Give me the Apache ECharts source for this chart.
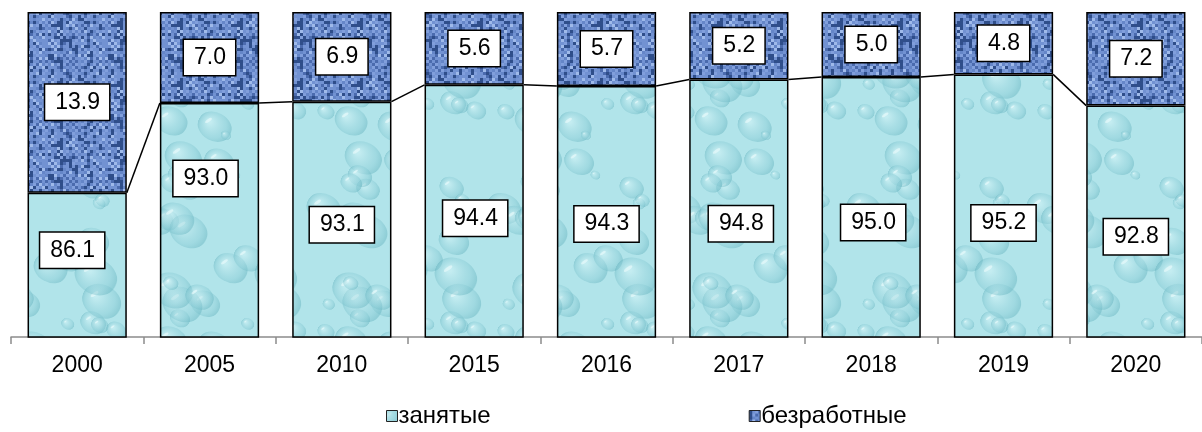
<!DOCTYPE html>
<html>
<head>
<meta charset="utf-8">
<script src="https://cdn.jsdelivr.net/npm/echarts@6/dist/echarts.min.js"></script>
<style>
html, body { margin: 0; padding: 0; background: #fff; }
#chart { width: 1202px; height: 432px; }
</style>
</head>
<body>
<div id="chart"></div>
<script>
var years = ['2000', '2005', '2010', '2015', '2016', '2017', '2018', '2019', '2020'];
var employed = [86.1, 93.0, 93.1, 94.4, 94.3, 94.8, 95.0, 95.2, 92.8];
var unemployed = [13.9, 7.0, 6.9, 5.6, 5.7, 5.2, 5.0, 4.8, 7.2];
var names = ['занятые', 'безработные'];

// the employed labels were moved by hand in the original, these are the nudges (px)
var employedLabelShift = [[-5, -15], [-4, -42], [0, 5], [1, 7], [0, 12], [2, 15], [2, 15], [0, 17], [0, 15]];

var FONT = 'Liberation Sans, Arial, sans-serif';

// small deterministic noise for the textures
var seed = 11;
function rnd() {
    seed = (seed * 16807) % 2147483647;
    return (seed - 1) / 2147483646;
}

function waterTexture() {
    var W = 180, H = 220;
    var c = document.createElement('canvas');
    c.width = W; c.height = H;
    var g = c.getContext('2d');
    g.fillStyle = '#b1e4ea';
    g.fillRect(0, 0, W, H);
    for (var k = 0; k < 34; k++) {
        var x = rnd() * W, y = rnd() * H, r = 5 + rnd() * 18;
        for (var dx = -W; dx <= W; dx += W) {
            for (var dy = -H; dy <= H; dy += H) {
                var cx = x + dx, cy = y + dy;
                if (cx < -r || cx > W + r || cy < -r || cy > H + r) continue;
                var rg = g.createRadialGradient(cx - r * 0.3, cy - r * 0.3, r * 0.1, cx, cy, r);
                rg.addColorStop(0, 'rgba(215,245,248,0.5)');
                rg.addColorStop(0.7, 'rgba(135,202,212,0.4)');
                rg.addColorStop(0.95, 'rgba(100,178,190,0.45)');
                rg.addColorStop(1, 'rgba(100,178,190,0)');
                g.fillStyle = rg;
                g.beginPath();
                g.ellipse(cx, cy, r, r * 0.8, 0.5, 0, Math.PI * 2);
                g.fill();
                g.fillStyle = 'rgba(240,253,254,0.55)';
                g.beginPath();
                g.ellipse(cx - r * 0.35, cy - r * 0.35, r * 0.22, r * 0.08, -0.6, 0, Math.PI * 2);
                g.fill();
            }
        }
    }
    return c;
}

function weaveTexture() {
    var c = document.createElement('canvas');
    c.width = 60; c.height = 60;
    var g = c.getContext('2d');
    g.fillStyle = '#6082c4';
    g.fillRect(0, 0, 60, 60);
    for (var y = 0; y < 60; y += 3) {
        for (var x = 0; x < 60; x += 3) {
            var t = rnd();
            var even = ((x / 3) + (y / 3)) % 2 === 0;
            if (t < 0.2) g.fillStyle = '#2f4e8a';
            else if (t < 0.44) g.fillStyle = even ? '#9fbaea' : '#4b6bae';
            else if (t < 0.72) g.fillStyle = even ? '#819fdc' : '#6586c8';
            else g.fillStyle = '#7292d2';
            g.fillRect(x, y, 3, 3);
        }
    }
    return c;
}

var waterFill = { image: waterTexture(), repeat: 'repeat' };
var weaveFill = { image: weaveTexture(), repeat: 'repeat' };

var boxLabel = {
    show: true,
    position: 'inside',
    formatter: function (p) { return p.value.toFixed(1); },
    color: '#000',
    fontFamily: FONT,
    fontSize: 23,
    lineHeight: 26,
    backgroundColor: '#fff',
    borderColor: '#000',
    borderWidth: 1.5,
    padding: [5, 9, 4, 10]
};

var chart = echarts.init(document.getElementById('chart'));

var option = {
    animation: false,
    grid: { left: 11, top: 12, width: 1200, height: 325 },
    legend: {
        data: names,
        left: 381,
        top: 399,
        itemGap: 258,
        itemWidth: 11,
        itemHeight: 11,
        icon: 'rect',
        itemStyle: { borderColor: '#222', borderWidth: 1 },
        textStyle: { fontFamily: FONT, fontSize: 24, color: '#000', padding: [0, 0, 0, -4] }
    },
    xAxis: {
        type: 'category',
        data: years,
        axisLine: { lineStyle: { color: '#8c8c8c', width: 1.5 } },
        axisTick: { show: true, length: 7, lineStyle: { color: '#8c8c8c', width: 1.5 } },
        axisLabel: { color: '#000', fontFamily: FONT, fontSize: 23, margin: 17 }
    },
    yAxis: {
        type: 'value',
        min: 75,
        max: 100,
        show: false,
        splitLine: { show: false }
    },
    series: [
        {
            name: names[0],
            type: 'bar',
            stack: 'all',
            barWidth: '75%',
            itemStyle: { color: waterFill, borderColor: '#000', borderWidth: 1.5 },
            label: boxLabel,
            data: employed.map(function (v, i) {
                return { value: v, label: { offset: employedLabelShift[i] } };
            })
        },
        {
            name: names[1],
            type: 'bar',
            stack: 'all',
            barWidth: '75%',
            itemStyle: { color: weaveFill, borderColor: '#000', borderWidth: 1.5 },
            label: boxLabel,
            data: unemployed
        },
        {
            // series lines between the tops of the employed segments
            type: 'custom',
            silent: true,
            z: 5,
            encode: { x: 0, y: 1 },
            data: employed.slice(0, -1).map(function (v, i) { return [i, v, employed[i + 1]]; }),
            renderItem: function (params, api) {
                var i = api.value(0);
                var a = api.coord([i, api.value(1)]);
                var b = api.coord([i + 1, api.value(2)]);
                var half = api.size([1, 0])[0] * 0.375;
                return {
                    type: 'line',
                    shape: { x1: a[0] + half, y1: a[1], x2: b[0] - half, y2: b[1] },
                    style: { stroke: '#000', lineWidth: 1.5 }
                };
            }
        }
    ]
};

chart.setOption(option);
</script>
</body>
</html>
